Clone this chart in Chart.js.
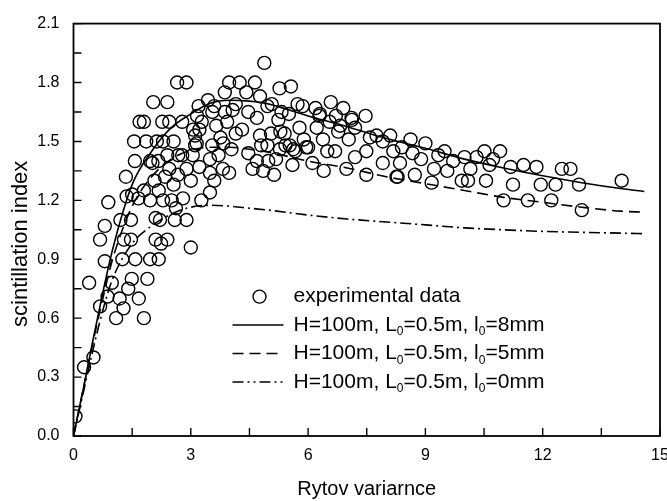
<!DOCTYPE html>
<html>
<head>
<meta charset="utf-8">
<script src="https://cdn.jsdelivr.net/npm/chart.js@4.4.0/dist/chart.umd.min.js"></script>
<style>
  html, body { margin: 0; padding: 0; background: #fff; overflow: hidden; }
  #wrap { width: 680px; height: 501px; }
</style>
</head>
<body>
<div id="wrap"><canvas id="myChart" width="680" height="501"></canvas></div>
<script>
const ctx = document.getElementById('myChart').getContext('2d');

// experimental data (Rytov variance, scintillation index)
const expX = [
    0.05, 0.27, 0.51, 0.40, 0.68, 0.68, 0.80, 0.80, 0.89, 0.98, 0.87, 1.09, 1.20, 1.18, 1.28, 1.25,
    1.29, 1.34, 1.36, 1.47, 1.47, 1.49, 1.40, 1.57, 1.55, 1.58, 1.50, 1.67, 1.69, 1.80, 1.80, 1.86,
    1.89, 1.80, 1.96, 1.96, 2.02, 2.04, 2.07, 2.10, 2.10, 2.18, 2.18, 2.21, 2.24, 2.29, 2.27, 2.29,
    2.13, 2.40, 2.40, 2.40, 2.45, 2.45, 2.51, 2.56, 2.56, 2.59, 2.62, 2.65, 2.67, 2.78, 2.80, 2.89,
    2.89, 2.89, 2.78, 3.00, 3.00, 3.05, 3.11, 3.11, 3.16, 3.20, 3.27, 3.22, 3.22, 2.17, 2.34, 1.66,
    2.68, 1.96,
    3.44, 3.55, 3.49, 3.49, 3.49, 3.55, 3.60, 3.65, 3.60, 3.71, 3.76, 3.82, 3.87, 3.93, 3.98, 3.98,
    4.04, 4.07, 4.15, 4.15, 4.25, 4.31, 4.42, 4.47, 4.47, 4.58, 4.64, 4.69, 4.69, 4.77, 4.77, 4.80,
    4.85, 4.88, 4.96, 4.96, 5.05, 5.07, 5.13, 5.18, 5.24, 5.27, 5.29, 5.40, 5.42, 5.51, 5.56, 5.60,
    5.62, 5.67, 5.73, 5.78, 5.86, 5.89, 5.95, 3.87, 5.32, 3.28, 3.83, 5.28, 5.53, 4.98, 3.06, 3.15,
    6.11, 6.19, 6.22, 6.29, 6.38, 6.40, 6.49, 6.55, 6.58, 6.69, 6.71, 6.82, 6.90, 6.98, 7.04, 7.12,
    7.20, 7.20, 7.47, 7.49, 7.49, 7.58, 7.75, 7.91, 7.91, 8.10, 8.18, 8.29, 8.35, 8.40, 8.62, 8.67,
    8.73, 8.89, 9.00, 6.77, 6.00, 6.30, 7.11, 8.26,
    9.16, 9.22, 9.33, 9.49, 9.56, 9.71, 9.93, 10.00, 10.09, 10.15, 10.31, 10.51, 10.55, 10.64, 10.73, 10.91,
    11.00, 11.18, 11.24, 11.51, 11.62, 11.84, 11.95, 12.22, 12.33, 12.49, 12.71, 12.93, 13.00, 14.02
];
const expY = [
    0.10, 0.35, 0.40, 0.78, 0.66, 1.00, 1.07, 0.89, 1.19, 0.78, 0.71, 0.60, 1.10, 0.70, 0.65, 0.90,
    1.00, 1.32, 1.22, 1.00, 1.10, 0.80, 0.75, 1.40, 1.50, 0.90, 1.23, 0.70, 1.60, 1.60, 0.60, 1.50,
    0.80, 1.25, 1.20, 0.90, 1.39, 1.70, 1.30, 1.11, 1.00, 1.25, 0.90, 1.10, 0.98, 1.20, 1.60, 1.50,
    1.50, 1.70, 1.00, 1.43, 1.60, 1.36, 1.20, 1.50, 1.28, 1.10, 1.16, 1.80, 1.33, 1.60, 1.21, 1.80,
    1.10, 1.36, 1.43, 0.96, 1.30, 1.43, 1.48, 1.53, 1.63, 1.68, 1.20, 1.37, 1.56, 1.40, 1.32, 1.21,
    1.43, 1.40,
    1.71, 1.65, 1.41, 1.34, 1.24, 1.48, 1.30, 1.58, 1.68, 1.43, 1.52, 1.36, 1.75, 1.60, 1.80, 1.34,
    1.46, 1.66, 1.69, 1.54, 1.80, 1.56, 1.75, 1.65, 1.44, 1.36, 1.80, 1.62, 1.40, 1.73, 1.53, 1.48,
    1.35, 1.90, 1.68, 1.48, 1.54, 1.69, 1.33, 1.41, 1.61, 1.77, 1.55, 1.54, 1.48, 1.64, 1.78, 1.38,
    1.46, 1.45, 1.69, 1.57, 1.68, 1.51, 1.47, 1.65, 1.65, 1.60, 1.49, 1.46, 1.48, 1.40, 1.56, 1.49,
    1.39, 1.67, 1.57, 1.63, 1.51, 1.35, 1.45, 1.60, 1.70, 1.45, 1.63, 1.58, 1.67, 1.36, 1.51, 1.61,
    1.57, 1.42, 1.63, 1.33, 1.45, 1.52, 1.53, 1.39, 1.50, 1.53, 1.45, 1.32, 1.39, 1.47, 1.51, 1.44,
    1.33, 1.41, 1.49, 1.55, 1.47, 1.64, 1.62, 1.32,
    1.29, 1.36, 1.43, 1.45, 1.35, 1.40, 1.30, 1.42, 1.30, 1.36, 1.42, 1.45, 1.30, 1.38, 1.41, 1.45,
    1.20, 1.37, 1.28, 1.38, 1.20, 1.37, 1.28, 1.20, 1.28, 1.36, 1.36, 1.28, 1.15, 1.30
];

// theory curves
const curveX = [0, 0.25, 0.5, 0.75, 1, 1.5, 2, 2.5, 3, 3.5, 4, 4.5, 5, 6, 7, 8, 9, 10, 11, 12, 13, 14, 14.6];
const solidY = [0, 0.24, 0.49, 0.73, 0.95, 1.28, 1.45, 1.57, 1.64, 1.695, 1.71, 1.705, 1.69, 1.63, 1.575, 1.515, 1.465, 1.41, 1.365, 1.325, 1.29, 1.26, 1.245];
const dashY = [0, 0.24, 0.48, 0.70, 0.90, 1.17, 1.32, 1.41, 1.455, 1.47, 1.47, 1.46, 1.445, 1.40, 1.365, 1.32, 1.285, 1.25, 1.215, 1.19, 1.165, 1.145, 1.14];
const dashDotY = [0, 0.22, 0.44, 0.64, 0.80, 0.98, 1.07, 1.13, 1.165, 1.175, 1.17, 1.16, 1.15, 1.125, 1.105, 1.09, 1.075, 1.06, 1.05, 1.042, 1.037, 1.033, 1.03];

const xTicks = [0, 3, 6, 9, 12, 15];
const yTicks = [0.0, 0.3, 0.6, 0.9, 1.2, 1.5, 1.8, 2.1];

const legendLabels = [
    ['experimental data'],
    ['H=100m, L', '0', '=0.5m, l', '0', '=8mm'],
    ['H=100m, L', '0', '=0.5m, l', '0', '=5mm'],
    ['H=100m, L', '0', '=0.5m, l', '0', '=0mm']
];
const yTitle = 'scintillation index';

function toXY(xs, ys) {
    return xs.map((x, i) => ({ x: x, y: ys[i] }));
}

const FONT = '"Liberation Sans", Arial, sans-serif';

// frame, inward ticks, y title and the legend
const decor = {
    id: 'decor',
    afterDraw(chart) {
        const c = chart.ctx;
        const a = chart.chartArea;
        const sx = chart.scales.x, sy = chart.scales.y;
        c.save();
        c.strokeStyle = '#000';
        c.lineWidth = 1.8;
        c.strokeRect(a.left, a.top, a.right - a.left, a.bottom - a.top);
        c.lineWidth = 1.4;
        c.beginPath();
        for (let v = 0; v <= 15; v += 1.5) {
            const px = sx.getPixelForValue(v);
            c.moveTo(px, a.bottom);
            c.lineTo(px, a.bottom - 8);
        }
        for (let i = 0; i <= 14; i++) {
            const py = sy.getPixelForValue(i * 0.15);
            c.moveTo(a.left, py);
            c.lineTo(a.left + 8, py);
        }
        c.stroke();

        // y title, sits a bit below the middle like the original
        c.fillStyle = '#000';
        c.save();
        c.translate(21, (a.top + a.bottom) / 2 + 14);
        c.rotate(-Math.PI / 2);
        c.font = '22px ' + FONT;
        c.textAlign = 'center';
        c.textBaseline = 'middle';
        c.fillText(yTitle, 0, 0);
        c.restore();

        // legend
        const lx = a.left + 159, ly = a.top + 273, gap = 28.5;
        c.textBaseline = 'middle';
        const dashes = [null, [], [11, 6], [11, 4, 2, 4, 2, 4]];
        legendLabels.forEach((parts, i) => {
            const y = ly + i * gap;
            if (i === 0) {
                c.beginPath();
                c.lineWidth = 1.4;
                c.arc(lx + 27, y, 6.5, 0, Math.PI * 2);
                c.stroke();
            } else {
                c.beginPath();
                c.lineWidth = 1.5;
                c.setLineDash(dashes[i]);
                c.moveTo(lx, y);
                c.lineTo(lx + 51, y);
                c.stroke();
                c.setLineDash([]);
            }
            let tx = lx + 61;
            parts.forEach((p, j) => {
                const sub = j % 2 === 1;
                c.font = (sub ? '12px ' : '21px ') + FONT;
                c.fillText(p, tx, sub ? y + 7 : y);
                tx += c.measureText(p).width;
            });
        });
        c.restore();
    }
};

const lineStyle = (data, dash) => ({
    type: 'line',
    data: data,
    borderColor: '#000',
    borderWidth: 1.6,
    borderDash: dash,
    pointRadius: 0,
    fill: false,
    cubicInterpolationMode: 'monotone'
});

const myChart = new Chart(ctx, {
    type: 'scatter',
    data: {
        datasets: [
            lineStyle(toXY(curveX, solidY), []),
            lineStyle(toXY(curveX, dashY), [11, 6]),
            lineStyle(toXY(curveX, dashDotY), [11, 4, 2, 4]),
            {
                label: 'experimental data',
                data: toXY(expX, expY),
                pointStyle: 'circle',
                pointRadius: 6.5,
                pointBorderWidth: 1.4,
                pointBorderColor: '#000',
                pointBackgroundColor: 'rgba(0,0,0,0)'
            }
        ]
    },
    plugins: [decor],
    options: {
        responsive: false,
        animation: false,
        events: [],
        layout: { padding: { top: 16, right: 20, left: 0, bottom: 0 } },
        plugins: { legend: { display: false }, tooltip: { enabled: false } },
        scales: {
            x: {
                type: 'linear',
                min: 0,
                max: 15,
                afterBuildTicks: (s) => { s.ticks = xTicks.map(v => ({ value: v })); },
                afterFit: (s) => { s.height = 65; },
                grid: { display: false, drawTicks: false },
                border: { display: false },
                ticks: { color: '#000', padding: 10, font: { family: FONT, size: 16 } },
                title: { display: true, text: 'Rytov variarnce', color: '#000', padding: { top: 0, bottom: 0 }, font: { family: FONT, size: 20 } }
            },
            y: {
                type: 'linear',
                min: 0,
                max: 2.1,
                afterBuildTicks: (s) => { s.ticks = yTicks.map(v => ({ value: v })); },
                afterFit: (s) => { s.width = 73.5; },
                grid: { display: false, drawTicks: false },
                border: { display: false },
                ticks: { color: '#000', padding: 14, font: { family: FONT, size: 16 }, callback: (v) => v.toFixed(1) },
                title: { display: false }
            }
        }
    }
});
</script>
</body>
</html>
